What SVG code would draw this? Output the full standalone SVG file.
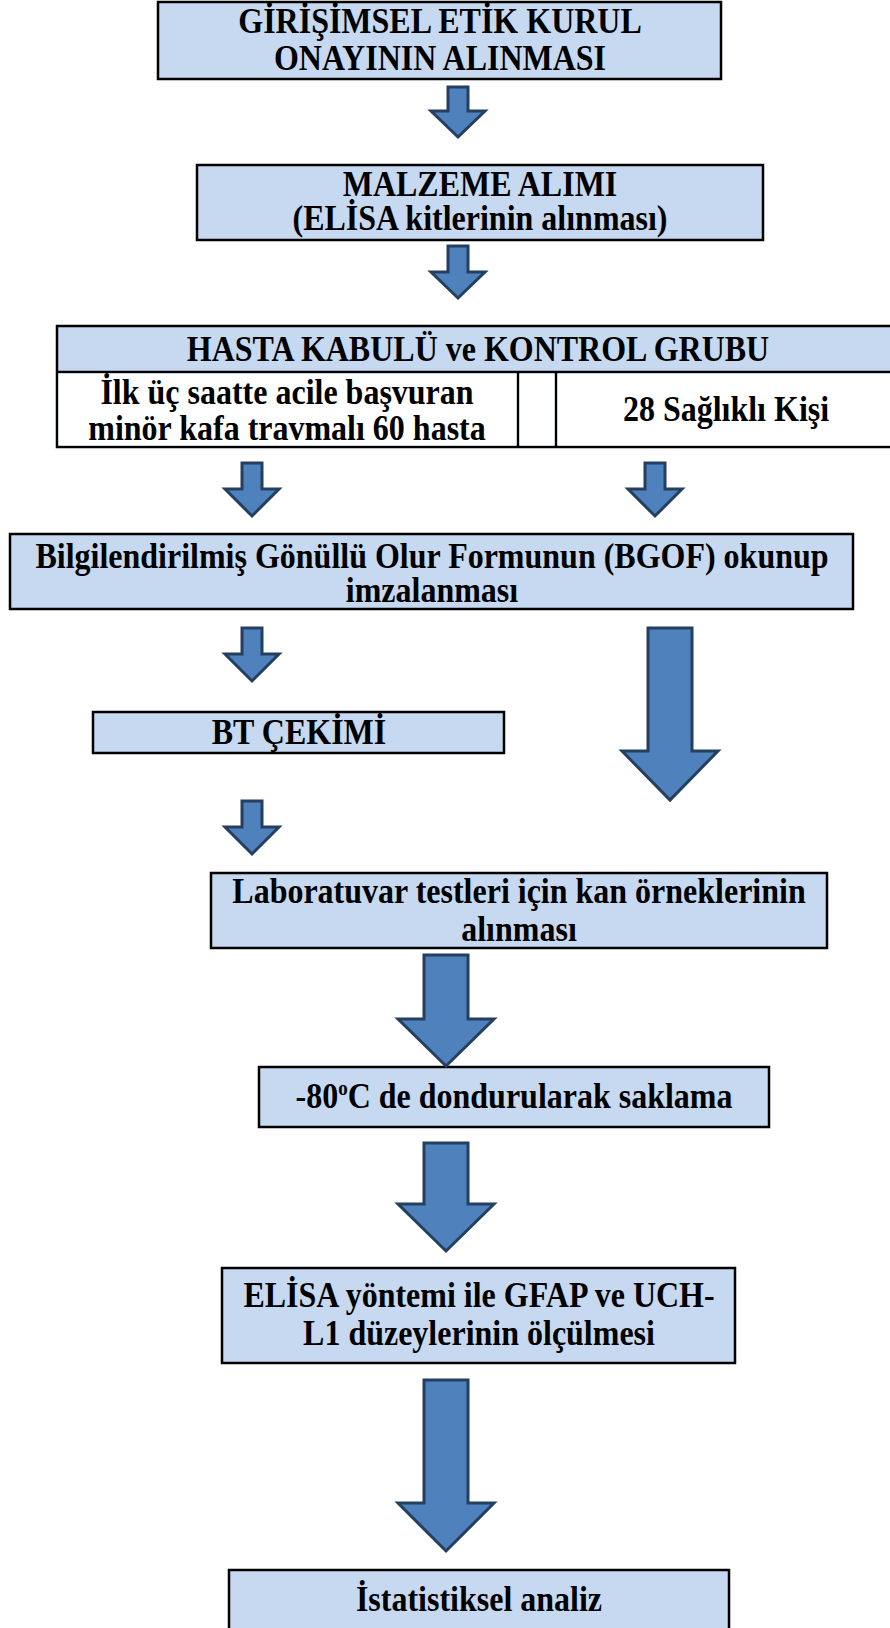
<svg xmlns="http://www.w3.org/2000/svg" width="890" height="1628" viewBox="0 0 890 1628">
<style>
.box{fill:#C6D9F1;stroke:#000;stroke-width:2.5}
.ln{stroke:#000;stroke-width:2.5;fill:none}
.t{font-family:"Liberation Serif","Times New Roman",serif;font-weight:bold;font-size:32px;fill:#000;text-anchor:middle}
.arr{fill:#4F81BD;stroke:#243F60;stroke-width:3;stroke-linejoin:miter}
</style>
<rect width="890" height="1628" fill="#fff"/>
<g id="n1">
<rect class="box" x="158" y="2" width="563" height="77"/>
<text class="t" transform="translate(440,33) scale(1,1.1)">GİRİŞİMSEL ETİK KURUL</text>
<text class="t" transform="translate(440,70) scale(1,1.1)">ONAYININ ALINMASI</text>
</g>
<g id="n2">
<rect class="box" x="197" y="165" width="566" height="75"/>
<text class="t" transform="translate(480,196) scale(1,1.1)">MALZEME ALIMI</text>
<text class="t" transform="translate(480,230) scale(1,1.1)">(ELİSA kitlerinin alınması)</text>
</g>
<g id="n3">
<rect class="box" x="57" y="326" width="843" height="121"/>
<line class="ln" x1="57" y1="372" x2="900" y2="372"/>
<line class="ln" x1="518" y1="372" x2="518" y2="447"/>
<line class="ln" x1="556" y1="372" x2="556" y2="447"/>
<rect x="58.5" y="373.5" width="458" height="72" fill="#fff"/>
<rect x="519.5" y="373.5" width="35" height="72" fill="#fff"/>
<rect x="557.5" y="373.5" width="335" height="72" fill="#fff"/>
<text class="t" transform="translate(478,361) scale(1,1.1)">HASTA KABULÜ ve KONTROL GRUBU</text>
<text class="t" transform="translate(287,404) scale(1,1.1)">İlk üç saatte acile başvuran</text>
<text class="t" transform="translate(287,440) scale(1,1.1)">minör kafa travmalı 60 hasta</text>
<text class="t" transform="translate(726,421) scale(1,1.1)">28 Sağlıklı Kişi</text>
</g>
<g id="n4">
<rect class="box" x="10" y="534" width="843" height="75"/>
<text class="t" transform="translate(432,568) scale(1,1.1)">Bilgilendirilmiş Gönüllü Olur Formunun (BGOF) okunup</text>
<text class="t" transform="translate(432,602) scale(1,1.1)">imzalanması</text>
</g>
<g id="n5">
<rect class="box" x="93" y="712" width="411" height="41"/>
<text class="t" transform="translate(299,744) scale(1,1.1)">BT ÇEKİMİ</text>
</g>
<g id="n6">
<rect class="box" x="211" y="873" width="616" height="75"/>
<text class="t" transform="translate(519,903) scale(1,1.1)">Laboratuvar testleri için kan örneklerinin</text>
<text class="t" transform="translate(519,941) scale(1,1.1)">alınması</text>
</g>
<g id="n7">
<rect class="box" x="259" y="1067" width="510" height="60"/>
<text class="t" transform="translate(514,1108) scale(1,1.1)">-80<tspan font-size="19" dy="-12">o</tspan><tspan dy="12">C de dondurularak saklama</tspan></text>
</g>
<g id="n8">
<rect class="box" x="222" y="1268" width="513" height="95"/>
<text class="t" transform="translate(479,1307) scale(1,1.1)">ELİSA yöntemi ile GFAP ve UCH-</text>
<text class="t" transform="translate(479,1345) scale(1,1.1)">L1 düzeylerinin ölçülmesi</text>
</g>
<g id="n9">
<rect class="box" x="229" y="1570" width="500" height="70"/>
<text class="t" transform="translate(479,1611) scale(1,1.1)">İstatistiksel analiz</text>
</g>
<g id="connectors">
<path class="arr" d="M448,87 H468 V111 H485 L458,137 L431,111 H448 Z"/>
<path class="arr" d="M448,246 H468 V272 H485 L458,298 L431,272 H448 Z"/>
<path class="arr" d="M242,463 H262 V489 H279 L252,516 L225,489 H242 Z"/>
<path class="arr" d="M645,463 H665 V489 H682 L655,516 L628,489 H645 Z"/>
<path class="arr" d="M242,628 H262 V654 H279 L252,681 L225,654 H242 Z"/>
<path class="arr" d="M242,801 H262 V827 H279 L252,854 L225,827 H242 Z"/>
<path class="arr" d="M648,628 H692 V751 H718 L670,800 L622,751 H648 Z"/>
<path class="arr" d="M424,955 H468 V1019 H494 L446,1066 L398,1019 H424 Z"/>
<path class="arr" d="M424,1143 H468 V1204 H494 L446,1251 L398,1204 H424 Z"/>
<path class="arr" d="M424,1380 H468 V1503 H494 L446,1551 L398,1503 H424 Z"/>
</g>
</svg>
